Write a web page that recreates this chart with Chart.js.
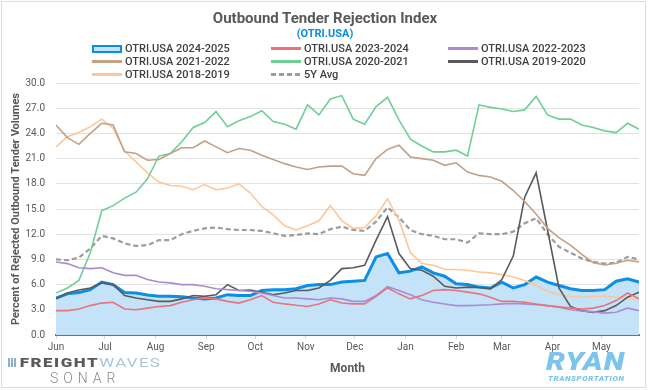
<!DOCTYPE html>
<html lang="en">
<head>
  <meta charset="UTF-8" />
  <title>Outbound Tender Rejection Index</title>
  <script src="https://cdn.jsdelivr.net/npm/chart.js"></script>
  <style>
    * { box-sizing: border-box; margin: 0; padding: 0; }
    body { width: 650px; height: 390px; background: #fff; font-family: Roboto, 'Noto Sans', sans-serif; overflow: hidden; }
    .wrap { position: relative; width: 650px; height: 390px; }
    .frame { position: absolute; left: 1px; top: 1px; width: 645px; height: 387px; border: 1px solid #dcdcdc; }
    canvas { position: absolute; left: 0; top: 0; }
    h1 { position: absolute; top: 9px; left: 0; width: 650px; text-align: center; font-size: 15px; font-weight: 700; color: #595959; }
    h2 { position: absolute; top: 27px; left: 0; width: 650px; text-align: center; font-size: 11px; font-weight: 700; color: #0a8ee6; }
    #legend { position: absolute; left: 92px; top: 42px; display: grid; grid-template-columns: 179px 177px 160px; }
    .item { display: flex; align-items: center; height: 13px; font-size: 11px; font-weight: 500; color: #404040; white-space: nowrap; }
    .mark { width: 30px; height: 3px; margin-right: 3px; flex: none; }
    .fw { position: absolute; left: 8px; top: 355px; font-size: 13px; font-weight: 900; letter-spacing: 1.2px; color: #5a5a5a;
      transform: scaleX(1.3); transform-origin: left center; white-space: nowrap; }
    .fw span { color: #a9c4db; font-weight: 400; letter-spacing: 1px; }
    .fw i { display: inline-block; width: 7px; height: 9px; margin-right: 2px; background: repeating-linear-gradient(90deg, #8fb0cc 0 1.5px, transparent 1.5px 2.5px); }
    .sonar { position: absolute; left: 50px; top: 370px; font-size: 14px; font-weight: 300; letter-spacing: 5px; color: #8a8a8a; }
    .ryan { position: absolute; left: 546px; top: 349px; font-size: 25px; font-weight: 900; font-style: italic; letter-spacing: 1px; color: #7cc4ec;
      line-height: 25px; transform: scaleX(1.2); transform-origin: left center; }
    .trans { position: absolute; left: 548px; top: 374px; font-size: 8px; font-weight: 900; font-style: italic; letter-spacing: 0.6px; color: #7cc4ec; }
  </style>
</head>
<body>
  <div class="wrap">
    <canvas id="otriChart" width="650" height="390"></canvas>
    <div class="frame"></div>
    <h1>Outbound Tender Rejection Index</h1>
    <h2>(OTRI.USA)</h2>
    <div id="legend"></div>
    <div class="fw"><i></i>FREIGHT<span>WAVES</span></div>
    <div class="sonar">SONAR</div>
    <div class="ryan">RYAN</div>
    <div class="trans">TRANSPORTATION</div>
  </div>

  <script>
    // days since Jun 1, one reading per week
    const days = [0, 7, 14, 21, 28, 35, 42, 49, 56, 63, 70, 77, 84, 91, 98, 105, 112, 119, 126, 133,
      140, 147, 154, 161, 168, 175, 182, 189, 196, 203, 210, 217, 224, 231, 238, 245, 252, 259, 266, 273,
      280, 287, 294, 301, 308, 315, 322, 329, 336, 343, 350, 357];

    const monthStarts = [0, 30, 61, 92, 122, 153, 183, 214, 245, 273, 304, 334];
    const monthLabels = ["Jun", "Jul", "Aug", "Sep", "Oct", "Nov", "Dec", "Jan", "Feb", "Mar", "Apr", "May"];

    const otri2425 = [4.4, 4.9, 5.05, 5.4, 6.3, 6.0, 5.05, 5.0, 4.75, 4.6, 4.6, 4.55, 4.4, 4.3, 4.4, 4.8, 4.7, 4.7, 5.3, 5.4,
      5.4, 5.5, 5.9, 6.0, 6.0, 6.3, 6.4, 6.5, 9.3, 9.7, 7.4, 7.6, 8.1, 7.4, 7.0, 6.1, 6.0, 5.7, 5.6, 6.3,
      5.6, 6.0, 6.9, 6.3, 5.9, 5.5, 5.3, 5.3, 5.4, 6.4, 6.7, 6.3];
    const otri2324 = [2.9, 2.9, 3.1, 3.5, 3.8, 3.9, 3.1, 3.0, 3.2, 3.4, 3.5, 3.9, 4.2, 4.4, 4.3, 4.0, 3.8, 4.2, 4.7, 3.9,
      3.7, 3.55, 3.4, 3.7, 4.2, 3.8, 3.7, 3.7, 4.6, 5.6, 4.9, 4.3, 4.7, 5.3, 5.4, 5.3, 5.1, 4.9, 4.5, 4.0,
      4.0, 3.9, 3.7, 3.5, 3.35, 3.2, 3.1, 3.2, 3.5, 4.1, 5.0, 4.3];
    const otri2223 = [8.7, 8.5, 8.0, 7.9, 8.0, 7.4, 7.1, 7.1, 6.6, 6.3, 6.2, 6.0, 6.0, 5.8, 5.5, 5.4, 5.3, 5.2, 5.0, 4.7,
      4.4, 4.4, 4.3, 4.2, 4.4, 4.3, 4.0, 4.0, 4.7, 5.75, 5.3, 4.8, 4.2, 3.9, 3.7, 3.5, 3.5, 3.55, 3.6, 3.7,
      3.75, 3.7, 3.6, 3.5, 3.3, 3.0, 2.85, 2.75, 2.6, 2.7, 3.2, 2.9];
    const otri2122 = [25.0, 23.5, 22.7, 24.0, 25.2, 25.0, 21.8, 21.6, 20.8, 20.9, 21.6, 22.3, 22.3, 23.1, 22.4, 21.7, 22.2, 22.0, 21.4, 20.9,
      20.4, 20.0, 19.7, 20.0, 20.1, 20.1, 19.2, 19.0, 21.0, 22.1, 22.6, 21.2, 21.0, 20.8, 20.2, 20.5, 19.4, 19.0, 18.8, 18.3,
      17.2, 15.9, 14.4, 12.7, 11.6, 10.7, 9.6, 8.6, 8.35, 8.55, 8.9, 8.7];
    const otri2021 = [5.0, 5.6, 6.5, 9.8, 14.8, 15.4, 16.3, 17.0, 18.6, 21.3, 21.6, 23.0, 24.7, 25.3, 26.6, 24.8, 25.5, 26.0, 26.7, 25.4,
      25.1, 24.5, 27.4, 26.2, 28.1, 28.5, 25.7, 25.1, 27.2, 28.3, 25.6, 23.3, 22.5, 21.8, 21.8, 22.0, 21.3, 27.4, 27.1, 26.9,
      26.6, 26.8, 28.4, 26.2, 25.7, 25.7, 25.0, 24.7, 24.3, 24.1, 25.2, 24.5];
    const otri1920 = [4.3, 5.0, 5.35, 5.6, 6.2, 6.0, 4.7, 4.4, 4.2, 4.0, 4.0, 4.3, 4.7, 4.6, 4.8, 6.0, 5.3, 5.35, 5.1, 4.8,
      5.0, 5.3, 5.3, 5.6, 6.5, 7.9, 8.0, 8.3, 11.3, 14.1, 9.7, 7.9, 7.7, 7.0, 5.8, 5.6, 5.7, 5.65, 5.5, 6.6,
      9.4, 16.4, 19.3, 12.5, 5.6, 3.4, 2.9, 2.7, 2.9, 3.5, 4.5, 5.1];
    const otri1819 = [22.4, 23.6, 24.1, 24.8, 25.7, 24.6, 21.9, 20.6, 19.3, 18.2, 17.8, 17.7, 17.3, 17.9, 17.3, 17.5, 18.0, 16.9, 15.3, 14.3,
      13.0, 12.5, 13.0, 13.6, 15.4, 13.6, 12.7, 12.8, 14.2, 16.2, 13.7, 9.8, 8.5, 8.3, 7.8, 7.8, 7.7, 7.5, 7.4, 7.2,
      6.9, 6.5, 5.9, 5.2, 4.8, 4.6, 4.5, 4.6, 4.6, 4.5, 4.4, 4.2];
    const avg5y = [9.0, 8.9, 9.2, 10.3, 11.8, 11.5, 10.9, 10.6, 10.7, 11.3, 11.3, 12.0, 12.4, 12.7, 12.8, 12.6, 12.5, 12.5, 12.4, 12.1,
      11.8, 11.9, 12.1, 12.0, 12.6, 12.9, 12.5, 12.4, 13.5, 15.2, 14.0, 12.5, 12.0, 11.8, 11.4, 11.4, 11.0, 12.1, 12.0, 12.0,
      12.3, 13.3, 13.9, 12.0, 10.5, 9.8, 9.1, 8.7, 8.5, 8.6, 9.3, 9.0];

    const series = [
      { label: "OTRI.USA 2024-2025", values: otri2425, color: "#0a8ee6", width: 3, fill: "#c4e3f8" },
      { label: "OTRI.USA 2023-2024", values: otri2324, color: "#e8747b", width: 1.6 },
      { label: "OTRI.USA 2022-2023", values: otri2223, color: "#a98bd2", width: 1.6 },
      { label: "OTRI.USA 2021-2022", values: otri2122, color: "#c4a084", width: 1.6 },
      { label: "OTRI.USA 2020-2021", values: otri2021, color: "#6fcf97", width: 1.6 },
      { label: "OTRI.USA 2019-2020", values: otri1920, color: "#5a5a5a", width: 1.6 },
      { label: "OTRI.USA 2018-2019", values: otri1819, color: "#ffc596", width: 1.6 },
      { label: "5Y Avg", values: avg5y, color: "#9c9c9c", width: 2.2, dash: [5, 3] }
    ];

    const datasets = series.map(s => ({
      label: s.label,
      data: days.map((d, i) => ({ x: d, y: s.values[i] })),
      borderColor: s.color,
      borderWidth: s.width,
      borderDash: s.dash || [],
      backgroundColor: s.fill || s.color,
      fill: s.fill ? "origin" : false,
      order: s.fill ? 2 : 1
    }));

    const tickFont = { family: "Roboto", size: 10 };
    const titleFont = { family: "Roboto", size: 11, weight: "bold" };

    new Chart(document.getElementById("otriChart"), {
      type: "line",
      data: { datasets },
      options: {
        responsive: false,
        animation: false,
        layout: { padding: { top: 83, right: 11, left: 6, bottom: 10 } },
        elements: { point: { radius: 0 }, line: { tension: 0 } },
        plugins: { legend: { display: false }, tooltip: { enabled: false } },
        scales: {
          x: {
            type: "linear",
            min: 0,
            max: 357,
            afterBuildTicks: scale => { scale.ticks = monthStarts.map(v => ({ value: v })); },
            afterFit: scale => { scale.height = 45; },
            ticks: { autoSkip: false, maxRotation: 0, padding: 2, color: "#595959", font: tickFont,
              callback: (v, i) => monthLabels[i] },
            grid: { drawOnChartArea: false, tickLength: 4, color: "#d9d9d9" },
            border: { color: "#0a8ee6", width: 2 },
            title: { display: true, text: "Month", color: "#595959", font: { family: "Roboto", size: 12, weight: "bold" },
              padding: { top: 4, bottom: 4 } }
          },
          y: {
            min: 0,
            max: 30,
            afterFit: scale => { scale.width = 50; },
            ticks: { stepSize: 3, padding: 11, color: "#595959", font: tickFont, callback: v => v.toFixed(1) },
            grid: { color: "#e2e2e2", drawTicks: false },
            border: { display: false },
            title: { display: true, text: "Percent of Rejected Outbound Tender Volumes", color: "#595959", font: titleFont, padding: 4 }
          }
        }
      }
    });

    // legend in three columns, like the original
    const legend = document.getElementById("legend");
    series.forEach(s => {
      const item = document.createElement("div");
      item.className = "item";
      const mark = document.createElement("span");
      mark.className = "mark";
      if (s.fill) {
        mark.style.height = "8px";
        mark.style.border = "2px solid " + s.color;
        mark.style.background = s.fill;
      } else if (s.dash) {
        mark.style.background = "repeating-linear-gradient(90deg, " + s.color + " 0 5px, transparent 5px 8px)";
      } else {
        mark.style.background = s.color;
      }
      item.appendChild(mark);
      item.appendChild(document.createTextNode(s.label));
      legend.appendChild(item);
    });
  </script>
</body>
</html>
